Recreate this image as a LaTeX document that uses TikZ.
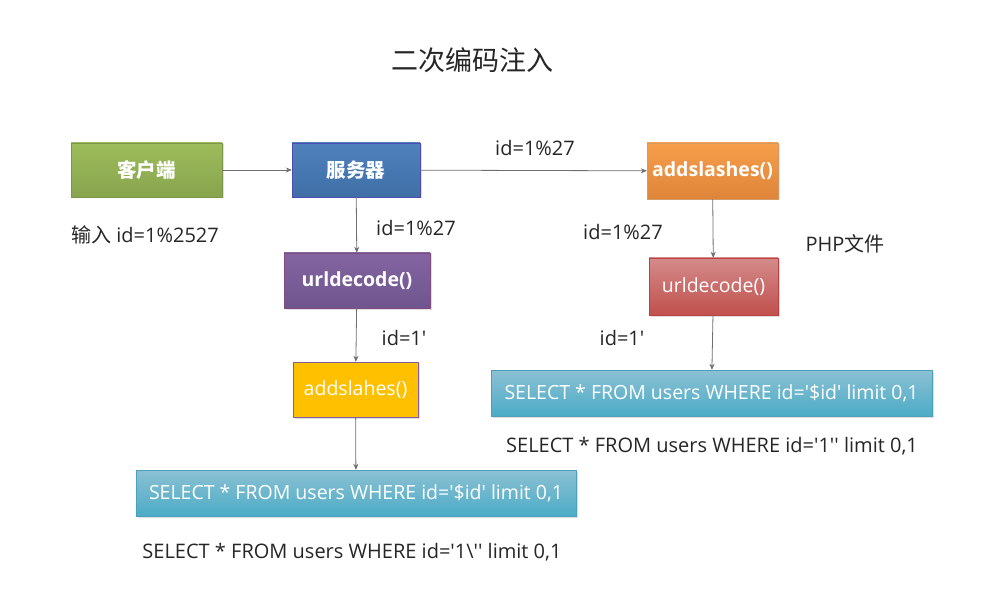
\documentclass[tikz,border=0pt]{standalone}
\usepackage{fontspec}
\setmainfont{Open Sans}
\newfontfamily\cjk{Noto Sans CJK SC}
\usetikzlibrary{positioning,arrows.meta,shadows}
\definecolor{txtgray}{HTML}{262626}
\definecolor{linegray}{HTML}{707070}
\newcommand\sq{\textquotesingle}
\tikzset{main box/.style={draw,text=white,inner sep=0pt,font=\fontsize{19.5}{22}\selectfont,
            drop shadow={opacity=0.25,shadow xshift=1.5pt,shadow yshift=-1.5pt}},
         lbl/.style={text=txtgray,font=\fontsize{20}{22}\selectfont,inner sep=0pt},
         flow/.style={draw=linegray,thick,-{Stealth[length=6pt,width=5pt]}},
            }

\begin{document}
\begin{tikzpicture}[x=1pt,y=-1pt]
    \useasboundingbox[fill=white] (0,0) rectangle (987,612);
    \node[lbl,font=\cjk\fontsize{27}{30}\selectfont] (title) at (472,60) {二次编码注入};

    \node[main box,draw={rgb,255:red,125;green,150;blue,75},top color={rgb,255:red,157;green,188;blue,90},bottom color={rgb,255:red,135;green,164;blue,78},
          minimum width=151,minimum height=54,font=\cjk\bfseries\fontsize{19.5}{22}\selectfont] (1) at (146.5,170) {客户端};
    \node[main box,draw=blue!40!gray,top color={rgb,255:red,79;green,129;blue,189},bottom color={rgb,255:red,64;green,111;blue,166},
          minimum width=128,minimum height=54,font=\cjk\bfseries\fontsize{19.5}{22}\selectfont] (2) at (356,170) {服务器};
    \node[main box,draw=orange!70!black!60,top color={rgb,255:red,246;green,158;blue,74},bottom color={rgb,255:red,222;green,133;blue,58},
          minimum width=131,minimum height=56,font=\bfseries\fontsize{19.5}{22}\selectfont] (3) at (712.5,171) {addslashes()};
    \node[main box,draw=violet!40!gray,top color={rgb,255:red,131;green,101;blue,161},bottom color={rgb,255:red,111;green,85;blue,142},
          minimum width=146,minimum height=55,font=\bfseries\fontsize{19.5}{22}\selectfont] (4) at (357,280.5) {urldecode()};
    \node[main box,draw={rgb,255:red,127;green,95;blue,160},fill={rgb,255:red,255;green,192;blue,0},
          minimum width=125,minimum height=55] (5) at (355.5,389.5) {addslahes()};
    \node[main box,draw={rgb,255:red,75;green,160;blue,190},top color={rgb,255:red,140;green,192;blue,211},bottom color={rgb,255:red,75;green,172;blue,198},
          minimum width=440,minimum height=46] (6) at (356,493) {SELECT * FROM users WHERE id=\sq\$id\sq{} limit 0,1};
    \node[main box,draw=red!50!gray,top color={rgb,255:red,212;green,139;blue,139},bottom color={rgb,255:red,192;green,80;blue,77},
          minimum width=129,minimum height=57] (7) at (713.5,286.5) {urldecode()};
    \node[main box,draw={rgb,255:red,75;green,160;blue,190},top color={rgb,255:red,140;green,192;blue,211},bottom color={rgb,255:red,75;green,172;blue,198},
          minimum width=441,minimum height=46] (8) at (711.5,393) {SELECT * FROM users WHERE id=\sq\$id\sq{} limit 0,1};

    \node[lbl] (in) at (145,235) {{\cjk 输入} id=1\%2527};
    \node[lbl] (a) at (416,228) {id=1\%27};
    \node[lbl] (b) at (535,148) {id=1\%27};
    \node[lbl] (c) at (623,232) {id=1\%27};
    \node[lbl] (php) at (845,244) {PHP{\cjk 文件}};
    \node[lbl] (d) at (404,338) {id=1\sq};
    \node[lbl] (e) at (622,338) {id=1\sq};
    \node[lbl] (r1) at (712,446) {SELECT * FROM users WHERE id=\sq1\sq\sq{} limit 0,1};
    \node[lbl] (r2) at (352,552) {SELECT * FROM users WHERE id=\sq1\textbackslash\sq\sq{} limit 0,1};

    \path[flow]
    (1) edge (2)
    (2) edge (3)
    (2) edge (4)
    (4) edge (5)
    (5) edge (6)
    (3) edge (7)
    (7) edge (8)
    ;
    %%
\end{tikzpicture}
\end{document}
